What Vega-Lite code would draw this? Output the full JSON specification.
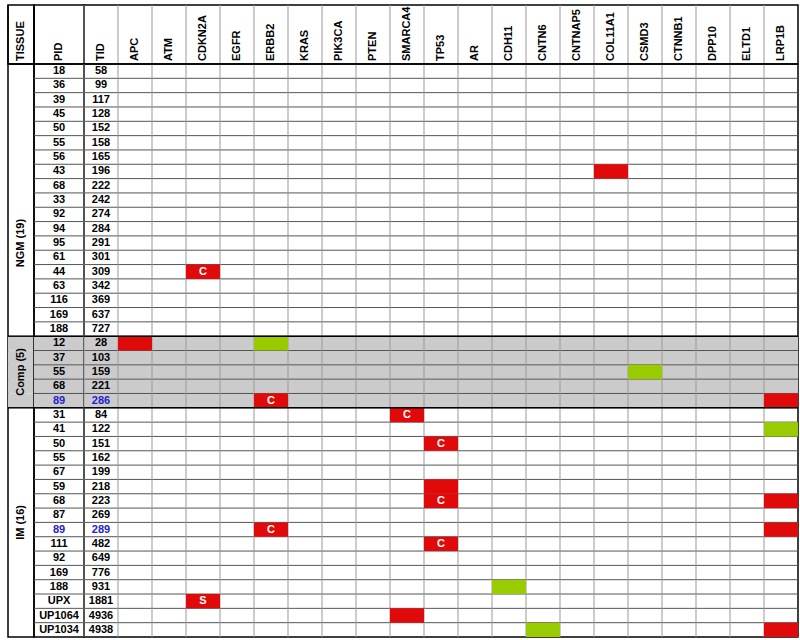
{
"$schema": "https://vega.github.io/schema/vega-lite/v6.json",
"padding": {"left": 6, "top": 3, "right": 0, "bottom": 0},
"background": "white",
"config": {
  "view": {"stroke": "#000", "strokeWidth": 1.5},
  "concat": {"spacing": 0},
  "text": {"font": "Liberation Sans", "fontWeight": "bold", "fontSize": 11}
},
"datasets": {
  "samples": [
    {"tissue": "NGM", "pid": "18", "tid": "58", "repeat": "no"},
    {"tissue": "NGM", "pid": "36", "tid": "99", "repeat": "no"},
    {"tissue": "NGM", "pid": "39", "tid": "117", "repeat": "no"},
    {"tissue": "NGM", "pid": "45", "tid": "128", "repeat": "no"},
    {"tissue": "NGM", "pid": "50", "tid": "152", "repeat": "no"},
    {"tissue": "NGM", "pid": "55", "tid": "158", "repeat": "no"},
    {"tissue": "NGM", "pid": "56", "tid": "165", "repeat": "no"},
    {"tissue": "NGM", "pid": "43", "tid": "196", "repeat": "no"},
    {"tissue": "NGM", "pid": "68", "tid": "222", "repeat": "no"},
    {"tissue": "NGM", "pid": "33", "tid": "242", "repeat": "no"},
    {"tissue": "NGM", "pid": "92", "tid": "274", "repeat": "no"},
    {"tissue": "NGM", "pid": "94", "tid": "284", "repeat": "no"},
    {"tissue": "NGM", "pid": "95", "tid": "291", "repeat": "no"},
    {"tissue": "NGM", "pid": "61", "tid": "301", "repeat": "no"},
    {"tissue": "NGM", "pid": "44", "tid": "309", "repeat": "no"},
    {"tissue": "NGM", "pid": "63", "tid": "342", "repeat": "no"},
    {"tissue": "NGM", "pid": "116", "tid": "369", "repeat": "no"},
    {"tissue": "NGM", "pid": "169", "tid": "637", "repeat": "no"},
    {"tissue": "NGM", "pid": "188", "tid": "727", "repeat": "no"},
    {"tissue": "Comp", "pid": "12", "tid": "28", "repeat": "no"},
    {"tissue": "Comp", "pid": "37", "tid": "103", "repeat": "no"},
    {"tissue": "Comp", "pid": "55", "tid": "159", "repeat": "no"},
    {"tissue": "Comp", "pid": "68", "tid": "221", "repeat": "no"},
    {"tissue": "Comp", "pid": "89", "tid": "286", "repeat": "yes"},
    {"tissue": "IM", "pid": "31", "tid": "84", "repeat": "no"},
    {"tissue": "IM", "pid": "41", "tid": "122", "repeat": "no"},
    {"tissue": "IM", "pid": "50", "tid": "151", "repeat": "no"},
    {"tissue": "IM", "pid": "55", "tid": "162", "repeat": "no"},
    {"tissue": "IM", "pid": "67", "tid": "199", "repeat": "no"},
    {"tissue": "IM", "pid": "59", "tid": "218", "repeat": "no"},
    {"tissue": "IM", "pid": "68", "tid": "223", "repeat": "no"},
    {"tissue": "IM", "pid": "87", "tid": "269", "repeat": "no"},
    {"tissue": "IM", "pid": "89", "tid": "289", "repeat": "yes"},
    {"tissue": "IM", "pid": "111", "tid": "482", "repeat": "no"},
    {"tissue": "IM", "pid": "92", "tid": "649", "repeat": "no"},
    {"tissue": "IM", "pid": "169", "tid": "776", "repeat": "no"},
    {"tissue": "IM", "pid": "188", "tid": "931", "repeat": "no"},
    {"tissue": "IM", "pid": "UPX", "tid": "1881", "repeat": "no"},
    {"tissue": "IM", "pid": "UP1064", "tid": "4936", "repeat": "no"},
    {"tissue": "IM", "pid": "UP1034", "tid": "4938", "repeat": "no"}
  ],
  "columns": [
    {"col": "TID"}, {"col": "APC"}, {"col": "ATM"}, {"col": "CDKN2A"}, {"col": "EGFR"}, {"col": "ERBB2"}, {"col": "KRAS"}, {"col": "PIK3CA"}, {"col": "PTEN"}, {"col": "SMARCA4"}, {"col": "TP53"}, {"col": "AR"}, {"col": "CDH11"}, {"col": "CNTN6"}, {"col": "CNTNAP5"}, {"col": "COL11A1"}, {"col": "CSMD3"}, {"col": "CTNNB1"}, {"col": "DPP10"}, {"col": "ELTD1"}, {"col": "LRP1B"}
  ],
  "calls": [
    {"tid": "196", "gene": "COL11A1", "call": "A", "label": ""},
    {"tid": "309", "gene": "CDKN2A", "call": "A", "label": "C"},
    {"tid": "28", "gene": "APC", "call": "A", "label": ""},
    {"tid": "28", "gene": "ERBB2", "call": "B", "label": ""},
    {"tid": "159", "gene": "CSMD3", "call": "B", "label": ""},
    {"tid": "286", "gene": "ERBB2", "call": "A", "label": "C"},
    {"tid": "286", "gene": "LRP1B", "call": "A", "label": ""},
    {"tid": "84", "gene": "SMARCA4", "call": "A", "label": "C"},
    {"tid": "122", "gene": "LRP1B", "call": "B", "label": ""},
    {"tid": "151", "gene": "TP53", "call": "A", "label": "C"},
    {"tid": "218", "gene": "TP53", "call": "A", "label": ""},
    {"tid": "223", "gene": "TP53", "call": "A", "label": "C"},
    {"tid": "223", "gene": "LRP1B", "call": "A", "label": ""},
    {"tid": "289", "gene": "ERBB2", "call": "A", "label": "C"},
    {"tid": "289", "gene": "LRP1B", "call": "A", "label": ""},
    {"tid": "482", "gene": "TP53", "call": "A", "label": "C"},
    {"tid": "931", "gene": "CDH11", "call": "B", "label": ""},
    {"tid": "1881", "gene": "CDKN2A", "call": "A", "label": "S"},
    {"tid": "4936", "gene": "SMARCA4", "call": "A", "label": ""},
    {"tid": "4938", "gene": "CNTN6", "call": "B", "label": ""},
    {"tid": "4938", "gene": "LRP1B", "call": "A", "label": ""}
  ],
  "groups": [
    {"label": "NGM (19)", "first": "58", "mid": "291"},
    {"label": "Comp (5)", "first": "28", "mid": "159"},
    {"label": "IM (16)", "first": "84", "mid": "289"}
  ]
},
"columns": 3,
"spacing": 0,
"bounds": "flush",
"concat": [
  {
    "width": 26, "height": 59,
    "data": {"values": [{"col": "TISSUE"}]},
    "layer": [
      {
        "mark": {"type": "rule", "color": "#000", "strokeWidth": 1.5},
        "encoding": {
          "x": {"field": "col", "type": "nominal", "bandPosition": 0, "axis": null, "scale": {"type": "band", "paddingInner": 0, "paddingOuter": 0}}
        }
      },
      {
        "mark": {"type": "text", "angle": 270, "align": "left", "baseline": "middle", "dx": 3, "color": "#000"},
        "encoding": {
          "x": {"field": "col", "type": "nominal", "bandPosition": 0.5, "axis": null, "scale": {"type": "band", "paddingInner": 0, "paddingOuter": 0}},
          "y": {"datum": "header", "type": "nominal", "bandPosition": 1, "axis": null, "scale": {"type": "band", "domain": ["header"], "paddingInner": 0, "paddingOuter": 0}},
          "text": {"field": "col"}
        }
      }
    ]
  },
  {
    "width": 50, "height": 59,
    "data": {"values": [{"col": "PID"}]},
    "layer": [
      {
        "mark": {"type": "rule", "color": "#000", "strokeWidth": 1.5},
        "encoding": {
          "x": {"field": "col", "type": "nominal", "bandPosition": 0, "axis": null, "scale": {"type": "band", "paddingInner": 0, "paddingOuter": 0}}
        }
      },
      {
        "mark": {"type": "text", "angle": 270, "align": "left", "baseline": "middle", "dx": 3, "color": "#000"},
        "encoding": {
          "x": {"field": "col", "type": "nominal", "bandPosition": 0.5, "axis": null, "scale": {"type": "band", "paddingInner": 0, "paddingOuter": 0}},
          "y": {"datum": "header", "type": "nominal", "bandPosition": 1, "axis": null, "scale": {"type": "band", "domain": ["header"], "paddingInner": 0, "paddingOuter": 0}},
          "text": {"field": "col"}
        }
      }
    ]
  },
  {
    "width": 714, "height": 59,
    "data": {"name": "columns"},
    "layer": [
      {
        "mark": {"type": "rule", "color": "#999", "strokeWidth": 1},
        "encoding": {
          "x": {"field": "col", "type": "nominal", "bandPosition": 0, "axis": null, "scale": {"type": "band", "domain": ["TID","APC","ATM","CDKN2A","EGFR","ERBB2","KRAS","PIK3CA","PTEN","SMARCA4","TP53","AR","CDH11","CNTN6","CNTNAP5","COL11A1","CSMD3","CTNNB1","DPP10","ELTD1","LRP1B"], "paddingInner": 0, "paddingOuter": 0}}
        }
      },
      {
        "mark": {"type": "text", "angle": 270, "align": "left", "baseline": "middle", "dx": 3, "color": "#000"},
        "encoding": {
          "x": {"field": "col", "type": "nominal", "bandPosition": 0.5, "axis": null, "scale": {"type": "band", "domain": ["TID","APC","ATM","CDKN2A","EGFR","ERBB2","KRAS","PIK3CA","PTEN","SMARCA4","TP53","AR","CDH11","CNTN6","CNTNAP5","COL11A1","CSMD3","CTNNB1","DPP10","ELTD1","LRP1B"], "paddingInner": 0, "paddingOuter": 0}},
          "y": {"datum": "header", "type": "nominal", "bandPosition": 1, "axis": null, "scale": {"type": "band", "domain": ["header"], "paddingInner": 0, "paddingOuter": 0}},
          "text": {"field": "col"}
        }
      }
    ]
  },
  {
    "width": 26, "height": 573,
    "layer": [
      {
        "data": {"name": "samples"},
        "transform": [{"filter": "datum.tissue == 'Comp'"}],
        "mark": {"type": "rect", "fill": "#cbcbcb"},
        "encoding": {
          "y": {"field": "tid", "type": "nominal", "axis": null, "scale": {"type": "band", "domain": ["58","99","117","128","152","158","165","196","222","242","274","284","291","301","309","342","369","637","727","28","103","159","221","286","84","122","151","162","199","218","223","269","289","482","649","776","931","1881","4936","4938"], "paddingInner": 0, "paddingOuter": 0}}
        }
      },
      {
        "data": {"name": "groups"},
        "mark": {"type": "rule", "color": "#000", "strokeWidth": 1.5},
        "encoding": {
          "y": {"field": "first", "type": "nominal", "bandPosition": 0, "axis": null, "scale": {"type": "band", "domain": ["58","99","117","128","152","158","165","196","222","242","274","284","291","301","309","342","369","637","727","28","103","159","221","286","84","122","151","162","199","218","223","269","289","482","649","776","931","1881","4936","4938"], "paddingInner": 0, "paddingOuter": 0}}
        }
      },
      {
        "data": {"name": "groups"},
        "transform": [{"filter": "datum.label != 'IM (16)'"}],
        "mark": {"type": "text", "angle": 270, "align": "center", "baseline": "middle", "color": "#000"},
        "encoding": {
          "y": {"field": "mid", "type": "nominal", "bandPosition": 0.5, "axis": null, "scale": {"type": "band", "domain": ["58","99","117","128","152","158","165","196","222","242","274","284","291","301","309","342","369","637","727","28","103","159","221","286","84","122","151","162","199","218","223","269","289","482","649","776","931","1881","4936","4938"], "paddingInner": 0, "paddingOuter": 0}},
          "text": {"field": "label"}
        }
      },
      {
        "data": {"name": "groups"},
        "transform": [{"filter": "datum.label == 'IM (16)'"}],
        "mark": {"type": "text", "angle": 270, "align": "center", "baseline": "middle", "color": "#000"},
        "encoding": {
          "y": {"field": "mid", "type": "nominal", "bandPosition": 0, "axis": null, "scale": {"type": "band", "domain": ["58","99","117","128","152","158","165","196","222","242","274","284","291","301","309","342","369","637","727","28","103","159","221","286","84","122","151","162","199","218","223","269","289","482","649","776","931","1881","4936","4938"], "paddingInner": 0, "paddingOuter": 0}},
          "text": {"field": "label"}
        }
      }
    ]
  },
  {
    "width": 50, "height": 573,
    "layer": [
      {
        "data": {"name": "samples"},
        "transform": [{"filter": "datum.tissue == 'Comp'"}],
        "mark": {"type": "rect", "fill": "#cbcbcb"},
        "encoding": {
          "y": {"field": "tid", "type": "nominal", "axis": null, "scale": {"type": "band", "domain": ["58","99","117","128","152","158","165","196","222","242","274","284","291","301","309","342","369","637","727","28","103","159","221","286","84","122","151","162","199","218","223","269","289","482","649","776","931","1881","4936","4938"], "paddingInner": 0, "paddingOuter": 0}}
        }
      },
      {
        "data": {"name": "samples"},
        "mark": {"type": "rule", "color": "#555", "strokeWidth": 1},
        "encoding": {
          "y": {"field": "tid", "type": "nominal", "bandPosition": 0, "axis": null, "scale": {"type": "band", "domain": ["58","99","117","128","152","158","165","196","222","242","274","284","291","301","309","342","369","637","727","28","103","159","221","286","84","122","151","162","199","218","223","269","289","482","649","776","931","1881","4936","4938"], "paddingInner": 0, "paddingOuter": 0}}
        }
      },
      {
        "data": {"name": "samples"},
        "mark": {"type": "text", "align": "center", "baseline": "middle"},
        "encoding": {
          "y": {"field": "tid", "type": "nominal", "axis": null, "scale": {"type": "band", "domain": ["58","99","117","128","152","158","165","196","222","242","274","284","291","301","309","342","369","637","727","28","103","159","221","286","84","122","151","162","199","218","223","269","289","482","649","776","931","1881","4936","4938"], "paddingInner": 0, "paddingOuter": 0}},
          "text": {"field": "pid"},
          "color": {"field": "repeat", "type": "nominal", "legend": null, "scale": {"domain": ["no", "yes"], "range": ["#000000", "#2222cc"]}}
        }
      },
      {
        "data": {"name": "groups"},
        "mark": {"type": "rule", "color": "#000", "strokeWidth": 1.5},
        "encoding": {
          "y": {"field": "first", "type": "nominal", "bandPosition": 0, "axis": null, "scale": {"type": "band", "domain": ["58","99","117","128","152","158","165","196","222","242","274","284","291","301","309","342","369","637","727","28","103","159","221","286","84","122","151","162","199","218","223","269","289","482","649","776","931","1881","4936","4938"], "paddingInner": 0, "paddingOuter": 0}}
        }
      }
    ]
  },
  {
    "width": 714, "height": 573,
    "layer": [
      {
        "data": {"name": "samples"},
        "transform": [{"filter": "datum.tissue == 'Comp'"}],
        "mark": {"type": "rect", "fill": "#cbcbcb"},
        "encoding": {
          "y": {"field": "tid", "type": "nominal", "axis": null, "scale": {"type": "band", "domain": ["58","99","117","128","152","158","165","196","222","242","274","284","291","301","309","342","369","637","727","28","103","159","221","286","84","122","151","162","199","218","223","269","289","482","649","776","931","1881","4936","4938"], "paddingInner": 0, "paddingOuter": 0}}
        }
      },
      {
        "data": {"name": "samples"},
        "mark": {"type": "rule", "color": "#555", "strokeWidth": 1},
        "encoding": {
          "y": {"field": "tid", "type": "nominal", "bandPosition": 0, "axis": null, "scale": {"type": "band", "domain": ["58","99","117","128","152","158","165","196","222","242","274","284","291","301","309","342","369","637","727","28","103","159","221","286","84","122","151","162","199","218","223","269","289","482","649","776","931","1881","4936","4938"], "paddingInner": 0, "paddingOuter": 0}}
        }
      },
      {
        "data": {"name": "columns"},
        "mark": {"type": "rule", "color": "#999", "strokeWidth": 1},
        "encoding": {
          "x": {"field": "col", "type": "nominal", "bandPosition": 0, "axis": null, "scale": {"type": "band", "domain": ["TID","APC","ATM","CDKN2A","EGFR","ERBB2","KRAS","PIK3CA","PTEN","SMARCA4","TP53","AR","CDH11","CNTN6","CNTNAP5","COL11A1","CSMD3","CTNNB1","DPP10","ELTD1","LRP1B"], "paddingInner": 0, "paddingOuter": 0}}
        }
      },
      {
        "data": {"name": "calls"},
        "mark": {"type": "rect"},
        "encoding": {
          "x": {"field": "gene", "type": "nominal", "axis": null, "scale": {"type": "band", "domain": ["TID","APC","ATM","CDKN2A","EGFR","ERBB2","KRAS","PIK3CA","PTEN","SMARCA4","TP53","AR","CDH11","CNTN6","CNTNAP5","COL11A1","CSMD3","CTNNB1","DPP10","ELTD1","LRP1B"], "paddingInner": 0, "paddingOuter": 0}},
          "y": {"field": "tid", "type": "nominal", "axis": null, "scale": {"type": "band", "domain": ["58","99","117","128","152","158","165","196","222","242","274","284","291","301","309","342","369","637","727","28","103","159","221","286","84","122","151","162","199","218","223","269","289","482","649","776","931","1881","4936","4938"], "paddingInner": 0, "paddingOuter": 0}},
          "fill": {"field": "call", "type": "nominal", "legend": null, "scale": {"domain": ["A", "B"], "range": ["#e00a0a", "#99cc00"]}}
        }
      },
      {
        "data": {"name": "samples"},
        "mark": {"type": "text", "align": "center", "baseline": "middle"},
        "encoding": {
          "x": {"datum": "TID", "type": "nominal", "axis": null, "scale": {"type": "band", "domain": ["TID","APC","ATM","CDKN2A","EGFR","ERBB2","KRAS","PIK3CA","PTEN","SMARCA4","TP53","AR","CDH11","CNTN6","CNTNAP5","COL11A1","CSMD3","CTNNB1","DPP10","ELTD1","LRP1B"], "paddingInner": 0, "paddingOuter": 0}},
          "y": {"field": "tid", "type": "nominal", "axis": null, "scale": {"type": "band", "domain": ["58","99","117","128","152","158","165","196","222","242","274","284","291","301","309","342","369","637","727","28","103","159","221","286","84","122","151","162","199","218","223","269","289","482","649","776","931","1881","4936","4938"], "paddingInner": 0, "paddingOuter": 0}},
          "text": {"field": "tid"},
          "color": {"field": "repeat", "type": "nominal", "legend": null, "scale": {"domain": ["no", "yes"], "range": ["#000000", "#2222cc"]}}
        }
      },
      {
        "data": {"name": "calls"},
        "mark": {"type": "text", "align": "center", "baseline": "middle", "color": "#ffffff"},
        "encoding": {
          "x": {"field": "gene", "type": "nominal", "axis": null, "scale": {"type": "band", "domain": ["TID","APC","ATM","CDKN2A","EGFR","ERBB2","KRAS","PIK3CA","PTEN","SMARCA4","TP53","AR","CDH11","CNTN6","CNTNAP5","COL11A1","CSMD3","CTNNB1","DPP10","ELTD1","LRP1B"], "paddingInner": 0, "paddingOuter": 0}},
          "y": {"field": "tid", "type": "nominal", "axis": null, "scale": {"type": "band", "domain": ["58","99","117","128","152","158","165","196","222","242","274","284","291","301","309","342","369","637","727","28","103","159","221","286","84","122","151","162","199","218","223","269","289","482","649","776","931","1881","4936","4938"], "paddingInner": 0, "paddingOuter": 0}},
          "text": {"field": "label"}
        }
      },
      {
        "data": {"name": "groups"},
        "mark": {"type": "rule", "color": "#000", "strokeWidth": 1.5},
        "encoding": {
          "y": {"field": "first", "type": "nominal", "bandPosition": 0, "axis": null, "scale": {"type": "band", "domain": ["58","99","117","128","152","158","165","196","222","242","274","284","291","301","309","342","369","637","727","28","103","159","221","286","84","122","151","162","199","218","223","269","289","482","649","776","931","1881","4936","4938"], "paddingInner": 0, "paddingOuter": 0}}
        }
      }
    ]
  }
]
}
